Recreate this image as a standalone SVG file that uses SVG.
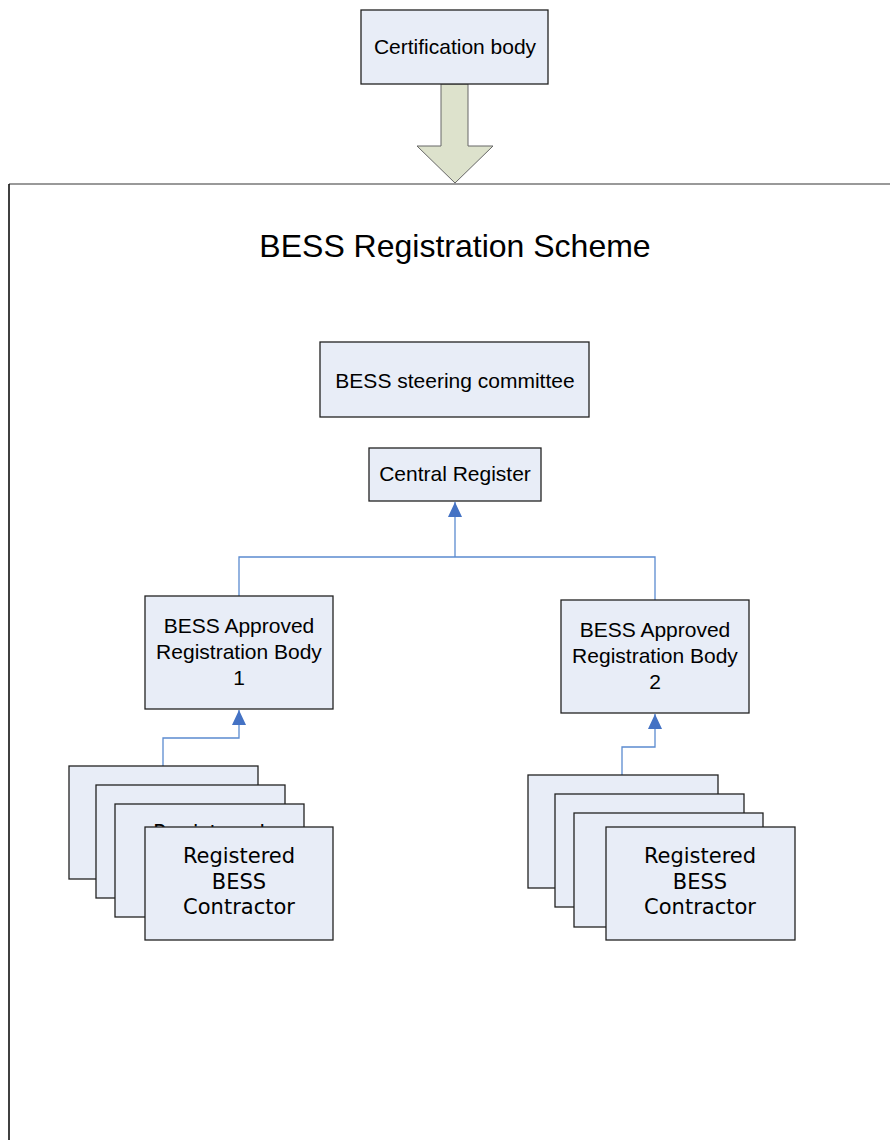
<svg xmlns="http://www.w3.org/2000/svg" width="890" height="1140" viewBox="0 0 890 1140">
<style>
.box{fill:#E8EDF7;stroke:#222;stroke-width:1.3}
.t{font-family:"Liberation Sans",Arial,sans-serif;font-size:21px;fill:#000;text-anchor:middle}
.v{font-family:"DejaVu Sans",Verdana,sans-serif;font-size:21px;fill:#000;text-anchor:middle}
.c{fill:none;stroke:#5B8BD0;stroke-width:1.3}
</style>
<defs>
<marker id="ah" markerWidth="15" markerHeight="14" refX="15" refY="7" orient="auto" markerUnits="userSpaceOnUse" viewBox="0 0 15 14">
<path d="M0,0 L15,7 L0,14 Z" fill="#4472C4"/>
</marker>
</defs>
<rect width="890" height="1140" fill="#fff"/>
<g id="frame">
<line x1="9" y1="184" x2="890" y2="184" stroke="#777" stroke-width="1.5"/>
<line x1="9" y1="184" x2="9" y2="1140" stroke="#000" stroke-width="1.5"/>
</g>
<g id="cert-arrow">
<path d="M441,84 L468,84 L468,146 L493,146 L455,183 L417,146 L441,146 Z" fill="#DDE2CC" stroke="#666" stroke-width="1"/>
</g>
<g id="certification-body">
<rect class="box" x="361" y="10" width="187" height="74"/>
<text class="t" x="455" y="54">Certification body</text>
</g>
<g id="title">
<text x="455" y="257" font-family="Liberation Sans, Arial, sans-serif" font-size="32" text-anchor="middle">BESS Registration Scheme</text>
</g>
<g id="steering-committee">
<rect class="box" x="320" y="342" width="269" height="75"/>
<text class="t" x="455" y="388">BESS steering committee</text>
</g>
<g id="central-register">
<rect class="box" x="369" y="448" width="172" height="53"/>
<text class="t" x="455" y="481">Central Register</text>
</g>
<g id="connectors">
<path class="c" d="M239,596 L239,557 L655,557 L655,600"/>
<path class="c" d="M455,557 L455,502" marker-end="url(#ah)"/>
<path class="c" d="M163,766 L163,738 L239,738 L239,710" marker-end="url(#ah)"/>
<path class="c" d="M622,775 L622,747 L655,747 L655,714" marker-end="url(#ah)"/>
</g>
<g id="registration-body-1">
<rect class="box" x="145" y="596" width="188" height="113"/>
<text class="t" x="239" y="633">BESS Approved</text>
<text class="t" x="239" y="659">Registration Body</text>
<text class="t" x="239" y="685">1</text>
</g>
<g id="registration-body-2">
<rect class="box" x="561" y="600" width="188" height="113"/>
<text class="t" x="655" y="637">BESS Approved</text>
<text class="t" x="655" y="663">Registration Body</text>
<text class="t" x="655" y="689">2</text>
</g>
<g id="contractors-1">
<rect class="box" x="69" y="766" width="189" height="113"/>
<rect class="box" x="96" y="785" width="189" height="113"/>
<rect class="box" x="115" y="804" width="189" height="113"/>
<text class="v" x="209" y="840">Registered</text>
<rect class="box" x="145" y="827" width="188" height="113"/>
<text class="v" x="239" y="863">Registered</text>
<text class="v" x="239" y="889">BESS</text>
<text class="v" x="239" y="914">Contractor</text>
</g>
<g id="contractors-2">
<rect class="box" x="528" y="775" width="190" height="113"/>
<rect class="box" x="555" y="794" width="189" height="113"/>
<rect class="box" x="574" y="813" width="189" height="114"/>
<rect class="box" x="606" y="827" width="189" height="113"/>
<text class="v" x="700" y="863">Registered</text>
<text class="v" x="700" y="889">BESS</text>
<text class="v" x="700" y="914">Contractor</text>
</g>
</svg>
